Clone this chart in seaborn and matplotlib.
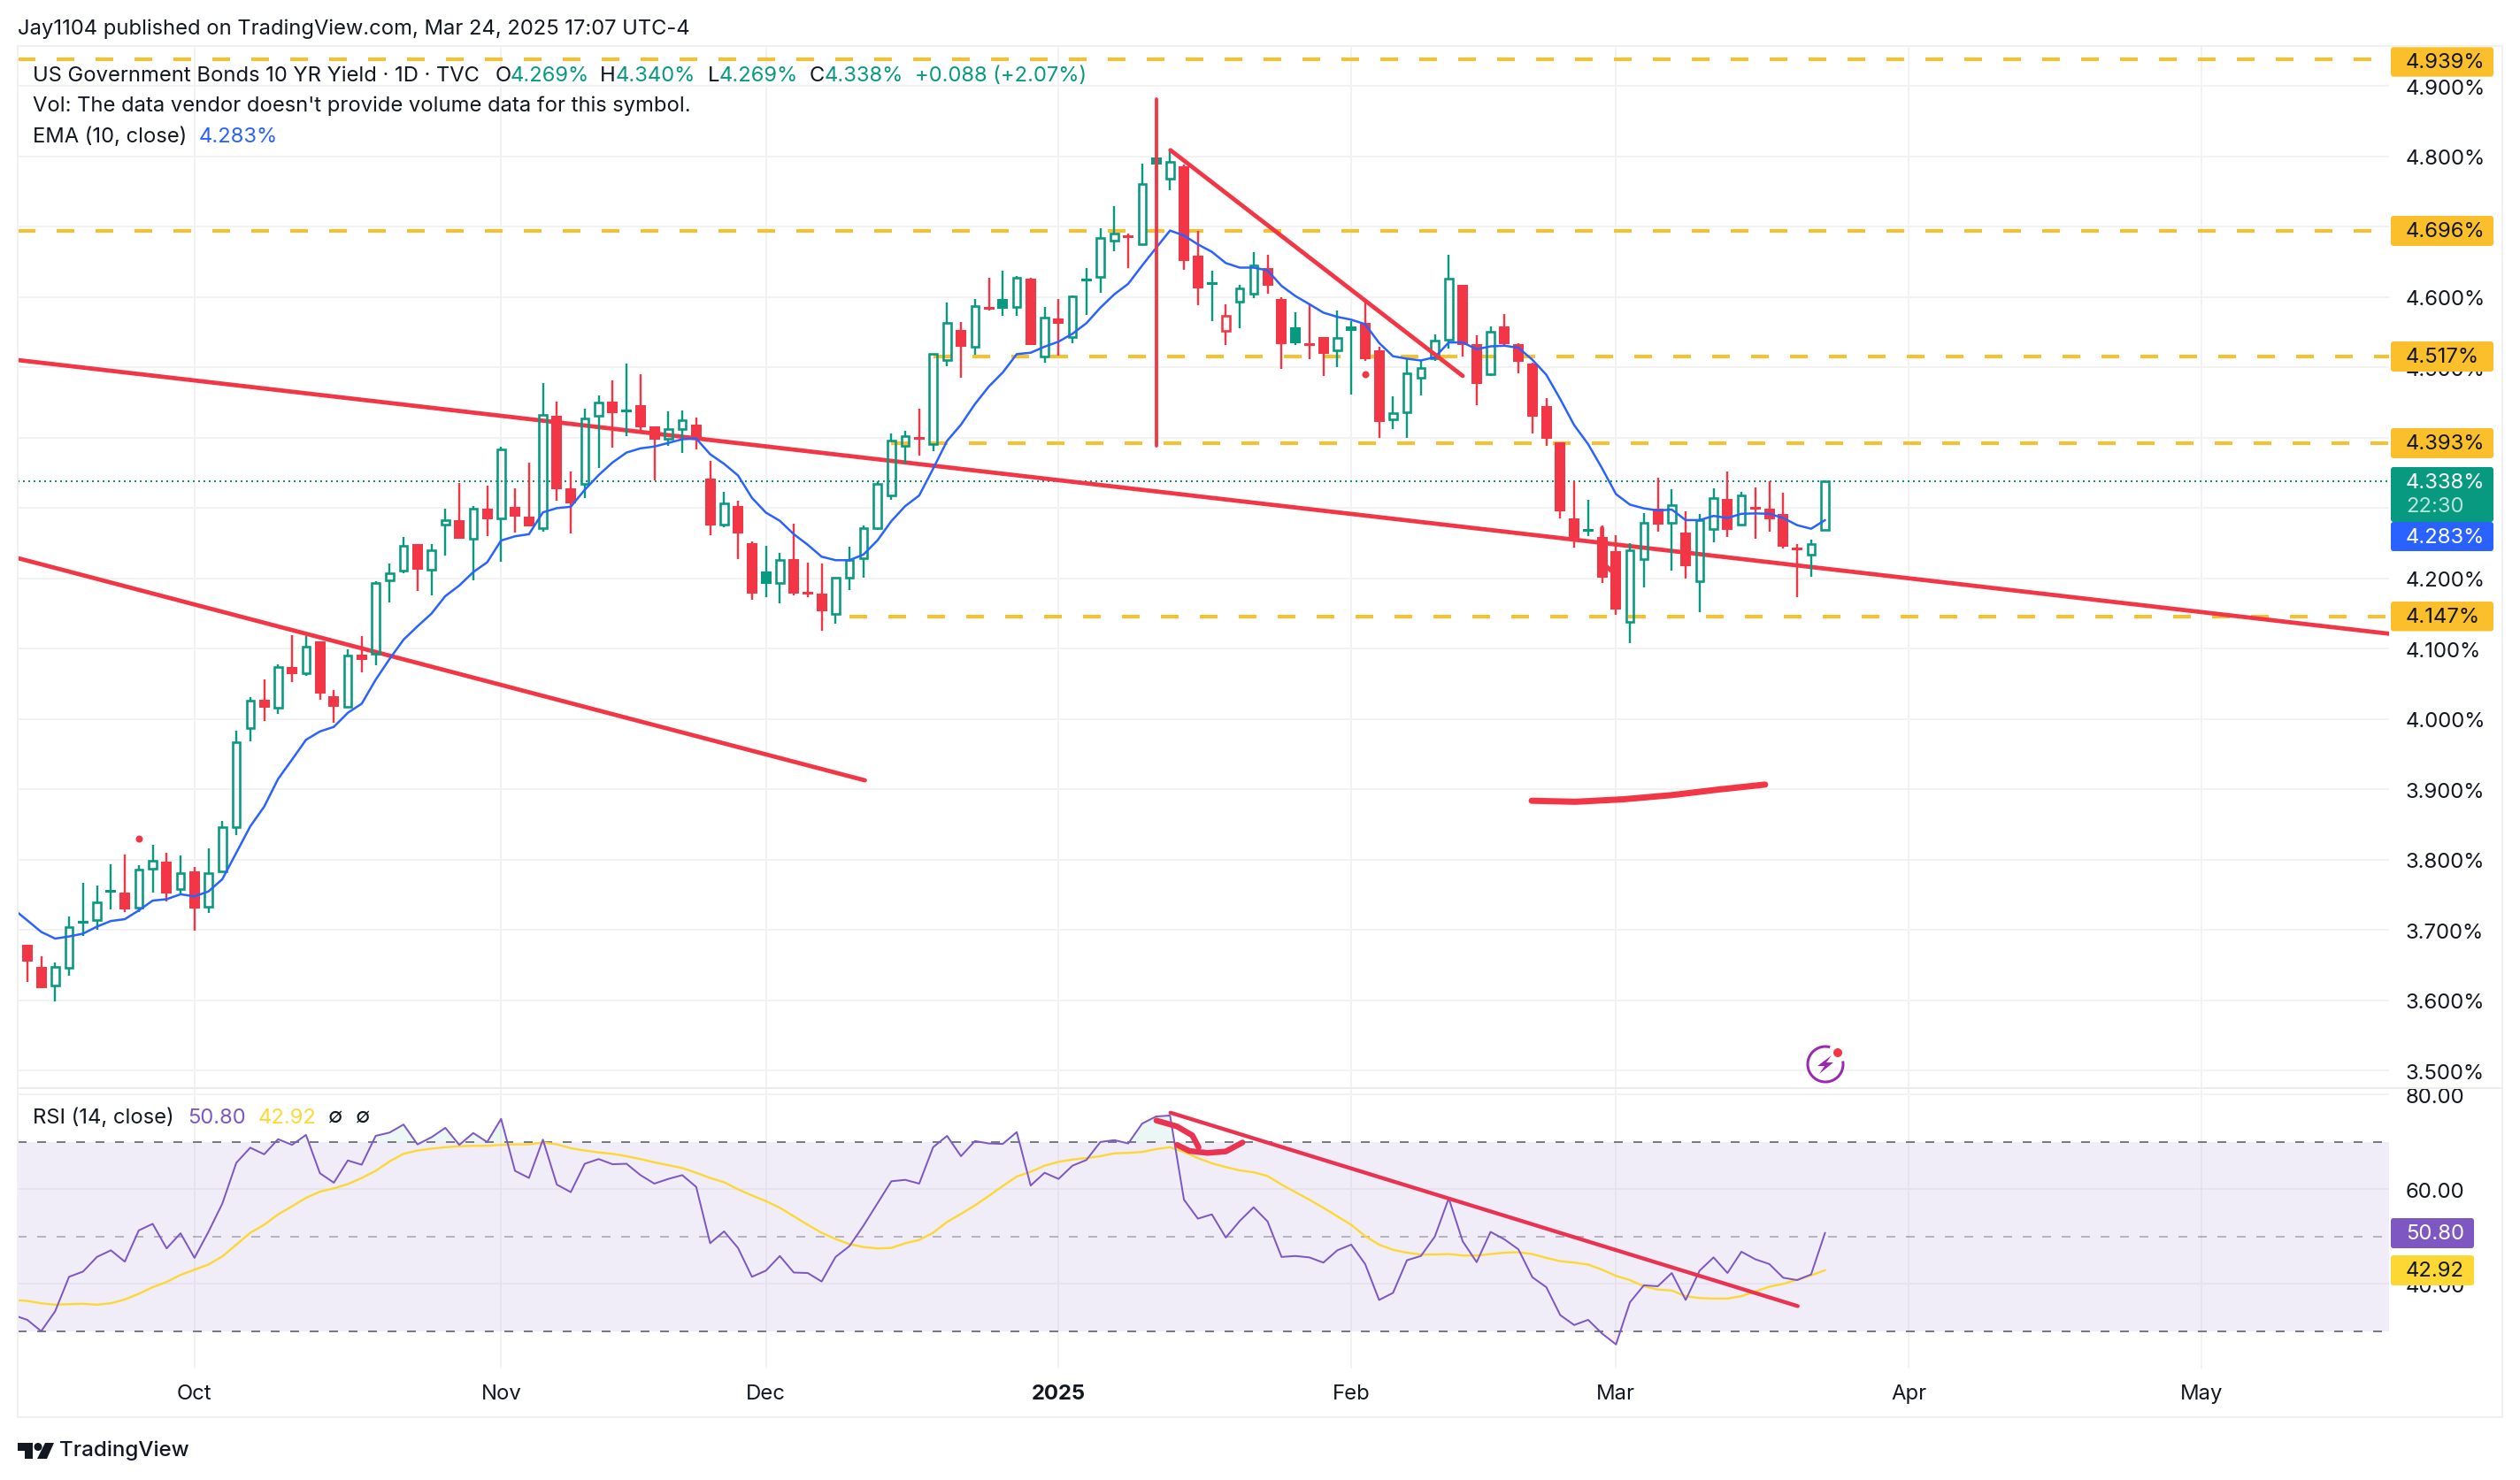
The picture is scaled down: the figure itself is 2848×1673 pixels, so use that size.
import numpy as np
import matplotlib
matplotlib.use("Agg")
import matplotlib.pyplot as plt
from matplotlib.patches import Rectangle, FancyBboxPatch, Polygon, Circle, Arc
import seaborn as sns

# ---------- data ----------
opens = [3.655,3.679,3.648,3.621,3.647,3.709,3.714,3.753,3.753,3.732,3.7875,3.797,3.758,3.784,3.733,3.783,3.847,3.987,4.028,4.016,
4.074,4.065,4.111,4.033,4.018,4.092,4.093,4.197,4.211,4.249,4.212,4.276,4.283,4.256,4.299,4.285,4.302,4.288,4.271,4.431,
4.328,4.334,4.431,4.452,4.4405,4.446,4.4166,4.399,4.413,4.419,4.342,4.276,4.303,4.25,4.21,4.193,4.227,4.181,4.179,4.15,
4.2015,4.229,4.272,4.318,4.388,4.398,4.3906,4.5107,4.5535,4.5296,4.585,4.597,4.5865,4.6267,4.5153,4.57,4.5434,4.6263,4.629,4.6807,
4.688,4.675,4.7984,4.768,4.786,4.6586,4.617,4.5516,4.593,4.6045,4.642,4.597,4.5566,4.535,4.5427,4.525,4.559,4.564,4.525,4.426,
4.436,4.4848,4.5133,4.54,4.6175,4.5327,4.491,4.558,4.5327,4.506,4.4458,4.393,4.2854,4.2675,4.259,4.239,4.1386,4.2275,4.299,4.2795,
4.265,4.196,4.2707,4.313,4.277,4.2995,4.2995,4.2917,4.241,4.2338,4.269]
highs = [3.685,3.679,3.663,3.654,3.719,3.767,3.764,3.793,3.807,3.792,3.821,3.81,3.806,3.79,3.816,3.855,3.984,4.031,4.056,4.078,
4.119,4.118,4.111,4.042,4.099,4.118,4.196,4.221,4.259,4.249,4.249,4.299,4.336,4.3025,4.332,4.3875,4.328,4.365,4.4775,4.451,
4.352,4.441,4.46,4.482,4.505,4.49,4.4166,4.437,4.439,4.429,4.3675,4.3235,4.31,4.253,4.247,4.237,4.278,4.223,4.2216,4.201,
4.2455,4.275,4.338,4.4065,4.41,4.442,4.52,4.592,4.565,4.597,4.6276,4.6376,4.63,4.628,4.586,4.597,4.6024,4.6414,4.698,4.729,
4.69,4.79,4.805,4.81,4.788,4.694,4.637,4.59,4.617,4.6636,4.66,4.6,4.578,4.591,4.5436,4.5805,4.566,4.595,4.529,4.4596,
4.5125,4.509,4.5465,4.66,4.618,4.5457,4.559,4.576,4.534,4.507,4.456,4.393,4.338,4.312,4.2753,4.262,4.25,4.293,4.3437,4.327,
4.2955,4.2917,4.328,4.3525,4.3236,4.3294,4.338,4.322,4.2493,4.2552,4.34]
lows = [3.64,3.626,3.617,3.599,3.635,3.692,3.70,3.73,3.726,3.726,3.754,3.741,3.749,3.699,3.724,3.783,3.835,3.968,3.997,4.007,
4.053,4.062,4.027,3.995,4.018,4.066,4.077,4.166,4.208,4.1825,4.176,4.2325,4.256,4.1975,4.26,4.224,4.265,4.274,4.266,4.311,
4.264,4.314,4.357,4.386,4.402,4.41,4.339,4.388,4.378,4.383,4.261,4.273,4.2275,4.17,4.173,4.165,4.176,4.173,4.1256,4.1356,
4.183,4.201,4.269,4.312,4.364,4.375,4.381,4.5015,4.486,4.518,4.5807,4.573,4.573,4.5325,4.5065,4.517,4.534,4.5744,4.6058,4.665,
4.642,4.675,4.76,4.752,4.6385,4.589,4.566,4.532,4.556,4.598,4.605,4.498,4.532,4.512,4.488,4.5,4.462,4.5096,4.4,4.4126,
4.4,4.46,4.509,4.527,4.5155,4.446,4.488,4.53,4.492,4.406,4.389,4.285,4.244,4.26,4.194,4.148,4.1076,4.187,4.266,4.211,
4.2,4.1516,4.252,4.2586,4.277,4.257,4.267,4.2426,4.173,4.202,4.269]
closes = [3.678,3.655,3.617,3.648,3.704,3.713,3.739,3.755,3.729,3.786,3.799,3.752,3.781,3.731,3.781,3.846,3.967,4.026,4.016,4.074,
4.064,4.103,4.036,4.017,4.091,4.084,4.194,4.208,4.246,4.2125,4.24,4.2825,4.256,4.299,4.284,4.384,4.288,4.274,4.4325,4.327,
4.307,4.4275,4.45,4.435,4.436,4.4145,4.397,4.412,4.425,4.40,4.275,4.307,4.264,4.178,4.192,4.226,4.178,4.177,4.153,4.201,
4.226,4.2715,4.334,4.396,4.402,4.397,4.519,4.564,4.529,4.587,4.582,4.583,4.627,4.5325,4.5714,4.562,4.6008,4.6225,4.6837,4.691,
4.684,4.7615,4.789,4.7925,4.652,4.613,4.6217,4.574,4.613,4.6456,4.6166,4.5335,4.5348,4.531,4.5196,4.542,4.552,4.512,4.4227,4.435,
4.492,4.499,4.5385,4.6267,4.532,4.477,4.551,4.533,4.508,4.43,4.399,4.296,4.2548,4.266,4.2007,4.156,4.2397,4.2787,4.276,4.304,
4.217,4.2825,4.314,4.2686,4.3177,4.2985,4.2837,4.2447,4.2405,4.2485,4.338]
ema10 = [3.73,3.714,3.6975,3.688,3.691,3.695,3.705,3.713,3.7156,3.728,3.742,3.744,3.751,3.748,3.755,3.7725,3.81,3.8475,3.8756,3.915,
3.9425,3.9706,3.9825,3.989,4.009,4.022,4.056,4.0856,4.113,4.132,4.15,4.175,4.19,4.209,4.223,4.254,4.26,4.263,4.294,4.3,
4.302,4.326,4.347,4.365,4.379,4.385,4.3876,4.3927,4.398,4.399,4.3767,4.363,4.3465,4.3147,4.2937,4.282,4.263,4.248,4.231,4.226,
4.226,4.234,4.254,4.2815,4.303,4.318,4.356,4.3956,4.4187,4.448,4.473,4.493,4.519,4.521,4.5296,4.5367,4.548,4.563,4.585,4.604,
4.619,4.645,4.67,4.6947,4.6876,4.675,4.6645,4.6485,4.642,4.642,4.638,4.616,4.6015,4.59,4.578,4.572,4.568,4.5616,4.535,4.516,
4.5125,4.51,4.5146,4.5356,4.5356,4.526,4.53,4.531,4.528,4.511,4.4897,4.455,4.418,4.391,4.3567,4.32,4.305,4.2997,4.2967,4.298,
4.283,4.283,4.289,4.286,4.292,4.2925,4.292,4.286,4.2758,4.2707,4.283]
rsi14 = [33.4,32.4,30,34.2,41.5,42.6,45.7,47.1,44.7,51.3,52.7,47.5,50.7,45.5,51,57,65.6,68.8,67.4,70.6,
69.4,71.5,63.4,61.4,66.1,65.2,71.3,72,73.7,69.5,71,73,69.4,71.9,70,74.9,63.9,62.4,70.5,61,
59.4,65.4,66.4,65.3,65.4,63,61.2,62.2,63,60.5,48.6,51.1,47.6,41.5,42.8,45.9,42.4,42.3,40.5,45.7,
48,52.3,57,61.7,62,61.2,68.9,71.3,67,70.2,69.7,69.6,72.1,60.8,63.5,62.2,65,66.2,70,70.4,
69.7,73.9,75.4,75.6,57.8,53.8,54.7,49.8,53.3,56.2,53.2,45.7,45.9,45.6,44.5,47.1,48.3,44.2,36.6,38.1,
45,45.9,50,58.1,49,44.6,51,49.4,47.3,41.4,39.3,33.4,31.3,32.4,29.5,27.2,36.1,39.7,39.5,42.3,
36.6,42.8,45.6,42.3,46.8,45.2,44.2,41.3,40.8,42,50.8]
rsi_ma = [36.6,36.4,35.9,35.6,35.7,35.8,35.6,35.9,36.7,37.9,39.3,40.4,41.9,43,44.1,45.8,48.3,50.8,52.5,54.7,
56.4,58.2,59.5,60.2,61.1,62.4,63.9,65.9,67.5,68.2,68.6,68.9,69.1,69.2,69.2,69.4,69.5,69.5,69.9,69.5,
68.7,68.2,67.8,67.5,67,66.4,65.7,65.1,64.5,63.5,62.4,61.5,60,58.7,57.5,56.1,54.3,52.5,50.8,49.5,
48.4,47.8,47.5,47.6,48.6,49.3,50.8,53.1,54.8,56.6,58.6,60.7,62.7,63.7,65,65.8,66.3,66.6,67,67.6,
67.7,67.9,68.5,68.9,67.9,66.6,65.5,64.7,64,63.6,62.8,61,59.4,57.8,56.1,54.3,52.5,50.1,48.3,47.2,
46.6,46.2,46.2,46.3,46,46,46.3,46.6,46.7,46.3,45.5,44.8,44.5,44.1,43,41.7,40.8,39.5,38.8,38.6,
37.4,37,36.9,36.9,37.4,38.4,39.4,40,40.9,41.8,42.9]

bar_index = np.arange(len(closes))
month_ticks = [13, 35, 54, 75, 96, 115, 136, 157]
month_labels = ["Oct", "Nov", "Dec", "2025", "Feb", "Mar", "Apr", "May"]
price_grid = [3.5,3.6,3.7,3.8,3.9,4.0,4.1,4.2,4.3,4.4,4.5,4.6,4.7,4.8,4.9]
price_hidden = [4.3, 4.4, 4.7]
rsi_grid = [40, 60, 80]

level_prices = [4.938, 4.694, 4.5156, 4.392, 4.146]
level_labels = ["4.939%", "4.696%", "4.517%", "4.393%", "4.147%"]
level_starts = [0.314, 0.314, 66, 63, 60]
level_ends = [169.2, 169.2, 170.47, 170.47, 170.47]

wedge_top_x, wedge_top_y = [0.31, 170.5], [4.5106, 4.1214]
wedge_low_x, wedge_low_y = [0.31, 61.1], [4.229, 3.913]
fall_x, fall_y = [83.03, 104.0], [4.809, 4.488]
spike_x, spike_y = [82, 82], [4.8816, 4.3886]
brush_x = [108.95, 112.07, 115.5, 119, 122.4, 125.7]
brush_y = [3.884, 3.8825, 3.886, 3.892, 3.9, 3.907]
stroke_x, stroke_y = [114, 114, 115], [4.2716, 4.2233, 4.2044]
dot_x, dot_y = [9, 97], [3.83, 4.491]
rsi_line_x, rsi_line_y = [83.03, 128.04], [76.2, 35.3]
curl_a_x, curl_a_y = [82.02, 83.5, 84.6, 85.05], [74.55, 73.3, 71.4, 68.9]
curl_b_x, curl_b_y = [83.5, 84.4, 85.7, 87, 88.2], [69.4, 68.1, 67.7, 68, 69.9]

# ---------- style ----------
GREEN, RED, BLUE = "#089981", "#f23645", "#2962ff"
ORANGE, PURPLE, YELLOW = "#fbbf2b", "#7e57c2", "#fdd835"
GRID, TXT = "#f2f2f3", "#131722"
PT = 0.72  # points per pixel at dpi 100
TICK_FS, LEG_FS = 17.2, 17.1
sns.set_theme(style="white")
plt.rcParams["font.family"] = ["Inter", "DejaVu Sans"]
plt.rcParams["lines.scale_dashes"] = False
W, H = 2848, 1674
fig = plt.figure(figsize=(W/100, H/100), dpi=100, facecolor="white")

def axes_px(x0, y0, x1, y1, z):
    return fig.add_axes([x0/W, 1-y1/H, (x1-x0)/W, (y1-y0)/H], zorder=z, facecolor="none")

ax = axes_px(20, 53, 2700, 1231, 1)
rx = axes_px(20, 1231, 2700, 1548, 1)
XL = (0.314, 170.47)
for a in (ax, rx):
    a.set_xlim(*XL)
    a.set_xticks(month_ticks)
    a.grid(True, color=GRID, lw=2*PT)
    a.set_axisbelow(True)
    a.yaxis.tick_right()
    for s in a.spines.values():
        s.set_visible(False)
    a.tick_params(length=0, labelsize=TICK_FS, labelcolor=TXT)
ax.set_ylim(3.4754, 4.9571)
rx.set_ylim(22.1, 81.4)

ax.set_yticks(price_grid)
ax.set_yticklabels(["" if v in price_hidden else f"{v:.3f}%" for v in price_grid])
ax.tick_params(axis="y", pad=19*PT)
ax.tick_params(axis="x", labelbottom=False)
rx.set_yticks(rsi_grid)
rx.set_yticklabels([f"{v:.2f}" for v in rsi_grid])
rx.tick_params(axis="y", pad=19*PT)
rx.set_xticklabels(month_labels)
rx.tick_params(axis="x", pad=17*PT)
rx.get_xticklabels()[3].set_fontweight("bold")

# levels and long lines below the candles
for p, a0, a1 in zip(level_prices, level_starts, level_ends):
    ax.plot([a0, a1], [p, p], color=ORANGE, lw=4*PT, ls=(0, (20*PT, 24*PT)), dash_capstyle="butt", zorder=2)
ax.plot(XL, [closes[-1]]*2, color=GREEN, lw=2*PT, ls=(0, (2*PT, 4*PT)), dash_capstyle="butt", zorder=2)
for xs, ys in ((wedge_top_x, wedge_top_y), (wedge_low_x, wedge_low_y), (stroke_x, stroke_y)):
    ax.plot(xs, ys, color=RED, lw=4.8*PT, solid_capstyle="round", zorder=2.5)

# candles
prev = np.r_[opens[0], closes[:-1]]
col = [GREEN if c >= q else RED for c, q in zip(closes, prev)]
MINH = 3/795
for i, (o, h, l, c, k) in enumerate(zip(opens, highs, lows, closes, col)):
    top, bot = max(o, c), min(o, c)
    if c > o and (c - o) > 1.6*MINH:
        ax.vlines(i, top, h, color=k, lw=2.4*PT, zorder=3)
        ax.vlines(i, l, bot, color=k, lw=2.4*PT, zorder=3)
        ax.bar(i, top-bot, bottom=bot, width=8.4/15.75, facecolor="none", edgecolor=k, lw=2.6*PT, zorder=3)
    else:
        ax.vlines(i, l, h, color=k, lw=2.4*PT, zorder=3)
        ax.bar(i, max(top-bot, MINH), bottom=bot, width=12/15.75, color=k, lw=0, zorder=3)

sns.lineplot(x=bar_index, y=ema10, ax=ax, color=BLUE, linewidth=2.5*PT, legend=False, zorder=4)
ax.scatter(dot_x, dot_y, s=(8*PT)**2, color=RED, lw=0, zorder=4)
ax.plot(fall_x, fall_y, color=RED, lw=4.8*PT, solid_capstyle="round", zorder=5)
ax.plot(spike_x, spike_y, color=RED, lw=3.8*PT, solid_capstyle="round", zorder=5)
ax.plot(brush_x, brush_y, color=RED, lw=7*PT, solid_capstyle="round", solid_joinstyle="round", zorder=5)
ax.set(xlabel="", ylabel="")

# RSI pane
rsi_arr = np.array(rsi14)
rx.axhspan(30, 70, color=PURPLE, alpha=0.1, lw=0, zorder=1)
rx.fill_between(bar_index, 70, rsi_arr, where=rsi_arr > 70, interpolate=True, color=GREEN, alpha=0.08, lw=0, zorder=1.2)
rx.fill_between(bar_index, 30, rsi_arr, where=rsi_arr < 30, interpolate=True, color=RED, alpha=0.08, lw=0, zorder=1.2)
for v, al in ((70, 1), (50, 0.5), (30, 1)):
    rx.axhline(v, color="#787b86", alpha=al, lw=2*PT, ls=(0, (10*PT, 12*PT)), dash_capstyle="butt", zorder=1.5)
sns.lineplot(x=bar_index, y=rsi_ma, ax=rx, color=YELLOW, linewidth=2.4*PT, legend=False, zorder=2)
sns.lineplot(x=bar_index, y=rsi14, ax=rx, color=PURPLE, linewidth=2*PT, legend=False, zorder=3)
rx.plot(rsi_line_x, rsi_line_y, color="#ea3350", lw=4.4*PT, solid_capstyle="round", zorder=4)
for xs, ys in ((curl_a_x, curl_a_y), (curl_b_x, curl_b_y)):
    rx.plot(xs, ys, color="#ea3350", lw=6.5*PT, solid_capstyle="round", solid_joinstyle="round", zorder=4)
rx.set(xlabel="", ylabel="")

# ---------- chrome in pixel coordinates ----------
ov = fig.add_axes([0, 0, 1, 1], zorder=10, facecolor="none")
ov.set_xlim(0, W); ov.set_ylim(H, 0); ov.axis("off")
FRAME = "#f0f0f1"
ov.add_patch(Rectangle((20, 53), 2808, 1550, fill=False, ec=FRAME, lw=2*PT))
ov.plot([20, 2828], [1231, 1231], color="#ebebec", lw=2*PT)

def label(x, y, s, c=TXT, fs=LEG_FS, **kw):
    ov.text(x, y, s, color=c, fontsize=fs, va="center", ha="left", **kw)

def badge(y0, y1, c, x1=2818):
    ov.add_patch(FancyBboxPatch((2702, y0), x1-2702, y1-y0, boxstyle="round,pad=0,rounding_size=3",
                                fc=c, ec="none", mutation_aspect=1))

for (y0, y1), s in zip(((54.3, 87.7), (245, 279), (387, 421), (485, 519), (681, 714.5)), level_labels):
    badge(y0, y1, ORANGE)
    label(2719, (y0+y1)/2, s, "#131722", TICK_FS)
badge(529, 591, GREEN); label(2719, 546, "4.338%", "white", TICK_FS)
ov.text(2719, 573, "22:30", color="white", alpha=0.72, fontsize=TICK_FS, va="center", ha="left")
badge(591, 624, BLUE); label(2719, 608, "4.283%", "white", TICK_FS)
badge(1378, 1412, PURPLE, 2796); label(2719, 1395, "50.80", "white", TICK_FS)
badge(1420, 1454, YELLOW, 2796); label(2719, 1437, "42.92", "#131722", TICK_FS)

label(20, 33, "Jay1104 published on TradingView.com, Mar 24, 2025 17:07 UTC-4")
label(37, 86, "US Government Bonds 10 YR Yield · 1D · TVC")
for x, s, c in ((560, "O", TXT), (577, "4.269%", GREEN), (678, "H", TXT), (696, "4.340%", GREEN),
                (800, "L", TXT), (813, "4.269%", GREEN), (915, "C", TXT), (932, "4.338%", GREEN),
                (1034, "+0.088 (+2.07%)", GREEN)):
    label(x, 86, s, c)
label(37, 120, "Vol: The data vendor doesn't provide volume data for this symbol.")
label(37, 155, "EMA (10, close)"); label(225, 155, "4.283%", BLUE)
label(37, 1264, "RSI (14, close)"); label(212, 1264, "50.80", PURPLE); label(292, 1264, "42.92", YELLOW)
label(371, 1264, "∅"); label(402, 1264, "∅")

# alert icon
ICON = "#9c27b0"
ov.add_patch(Arc((2063, 1204), 40, 40, theta1=-10, theta2=285, ec=ICON, lw=3*PT))
ov.add_patch(Polygon([(2070, 1194), (2054, 1206), (2062, 1206), (2056, 1215), (2072, 1202), (2064, 1202)], fc=ICON, ec="none"))
ov.add_patch(Circle((2077, 1191), 5, fc=RED, ec="none"))

# footer logo and name
ov.add_patch(Polygon([(20, 1632), (37, 1632), (37, 1650), (28, 1650), (28, 1641), (20, 1641)], fc=TXT, ec="none"))
ov.add_patch(Circle((43, 1636.5), 4.5, fc=TXT, ec="none"))
ov.add_patch(Polygon([(51, 1632), (61, 1632), (53, 1650), (42, 1650)], fc=TXT, ec="none"))
label(67, 1640, "TradingView", TXT, 17.4, fontweight="medium")

fig.savefig("out.png", dpi=100)
